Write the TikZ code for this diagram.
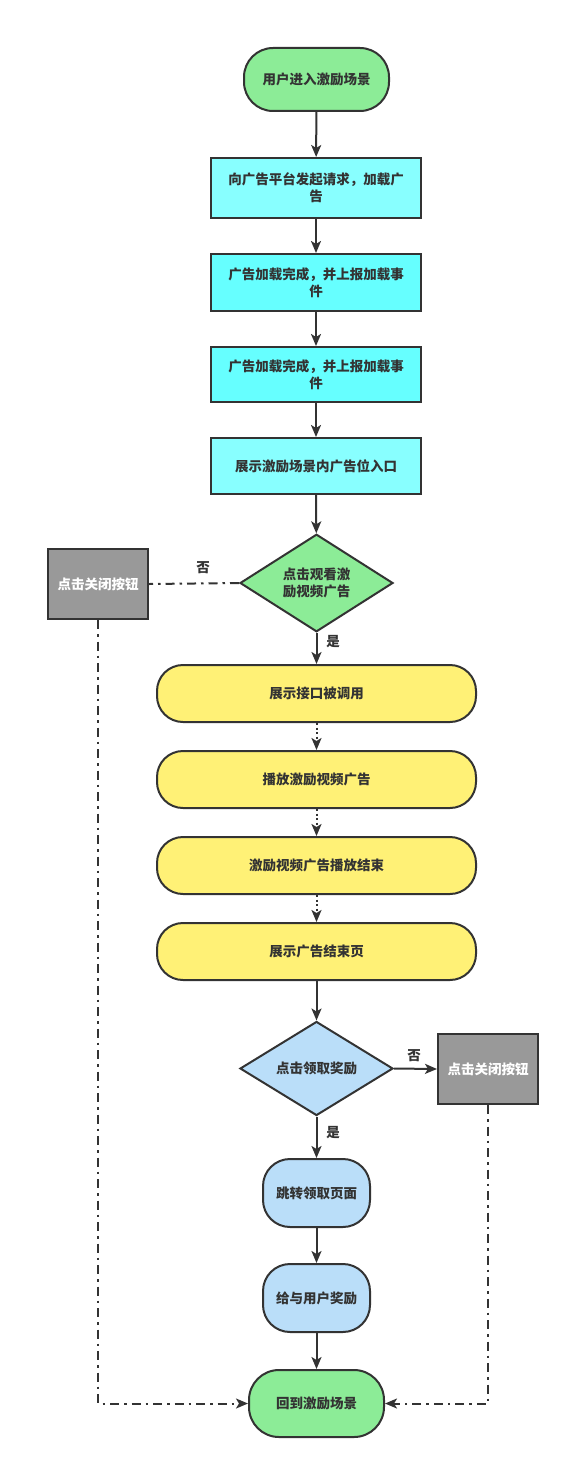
\documentclass[tikz,border=0pt]{standalone}
\usepackage{fontspec}
\newfontfamily\cjk{Noto Sans CJK SC}
\usetikzlibrary{shapes.geometric,arrows.meta}
\definecolor{ink}{HTML}{333333}
\definecolor{cgreen}{HTML}{8CEC97}
\definecolor{ccyanA}{HTML}{88FFFF}
\definecolor{ccyanB}{HTML}{66FFFF}
\definecolor{cyellow}{HTML}{FFF176}
\definecolor{cblue}{HTML}{BADEF9}
\definecolor{cgray}{HTML}{999999}
\tikzset{
  base/.style={draw=ink, line width=2pt, text=ink, align=center, inner sep=0pt,
    font=\cjk\bfseries\fontsize{13.5}{17}\selectfont},
  term/.style={base, rounded corners=29pt},
  procbox/.style={base, rectangle, minimum width=210pt},
  ybox/.style={base, fill=cyellow, rounded corners=26pt, minimum width=319pt, minimum height=57pt},
  dia/.style={base, diamond, minimum width=153pt, minimum height=90pt},
  graybox/.style={base, fill=cgray, text=white, minimum width=100pt, minimum height=70pt},
  tip/.style={-{Stealth[length=12pt,width=10pt,inset=3pt]}},
  flow/.style={draw=ink, line width=2pt, tip},
  dotflow/.style={flow, dash pattern=on 2pt off 2.5pt},
  dashdot/.style={draw=ink, line width=2pt, dash pattern=on 9pt off 5pt on 2.5pt off 5pt},
  lbl/.style={text=ink, font=\cjk\bfseries\fontsize{13.5}{15}\selectfont, inner sep=0pt}
}
\begin{document}
\begin{tikzpicture}[x=1pt,y=-1pt]
\useasboundingbox (0,0) rectangle (570,1469);
\node[term, fill=cgreen, minimum width=145pt, minimum height=63pt] (start) at (316.5,79.5) {用户进入激励场景};
\node[procbox, fill=ccyanA, minimum height=60pt] (b1) at (316,188) {向广告平台发起请求，加载广\\告};
\node[procbox, fill=ccyanB, minimum height=57pt] (b2) at (316,282.5) {广告加载完成，并上报加载事\\件};
\node[procbox, fill=ccyanB, minimum height=55pt] (b3) at (316,374.5) {广告加载完成，并上报加载事\\件};
\node[procbox, fill=ccyanA, minimum height=56pt] (b4) at (316,466) {展示激励场景内广告位入口};
\node[dia, fill=cgreen] (d1) at (316.5,583) {点击观看激\\励视频广告};
\node[graybox] (g1) at (98,584) {点击关闭按钮};
\node[ybox] (y1) at (316.5,693.5) {展示接口被调用};
\node[ybox] (y2) at (316.5,779.5) {播放激励视频广告};
\node[ybox] (y3) at (316.5,865.5) {激励视频广告播放结束};
\node[ybox] (y4) at (316.5,951.5) {展示广告结束页};
\node[dia, fill=cblue] (d2) at (316.5,1068.5) {点击领取奖励};
\node[graybox] (g2) at (488,1069) {点击关闭按钮};
\node[term, fill=cblue, minimum width=107pt, minimum height=68pt, rounded corners=27pt] (u1) at (316.5,1193) {跳转领取页面};
\node[term, fill=cblue, minimum width=107pt, minimum height=68pt, rounded corners=27pt] (u2) at (316.5,1298) {给与用户奖励};
\node[term, fill=cgreen, minimum width=135pt, minimum height=67pt, rounded corners=30pt] (end) at (316.5,1403.5) {回到激励场景};
\node[lbl] (no1) at (203,568) {否};
\node[lbl] (yes1) at (333,642) {是};
\node[lbl] (no2) at (414,1056) {否};
\node[lbl] (yes2) at (333,1133) {是};
\coordinate (lc) at (g1.south |- end.west);
\coordinate (rc) at (g2.south |- end.east);
\draw[flow] (start) -- (b1);
\draw[flow] (b1) -- (b2);
\draw[flow] (b2) -- (b3);
\draw[flow] (b3) -- (b4);
\draw[flow] (b4) -- (d1);
\draw[flow] (d1) -- (y1);
\draw[dashdot] (d1.west) -- (g1.east);
\draw[dotflow] (y1) -- (y2);
\draw[dotflow] (y2) -- (y3);
\draw[dotflow] (y3) -- (y4);
\draw[flow] (y4) -- (d2);
\draw[flow] (d2.east) -- (g2.west);
\draw[flow] (d2) -- (u1);
\draw[flow] (u1) -- (u2);
\draw[flow] (u2) -- (end);
\draw[dashdot, tip] (g1.south) -- (lc) -- (end.west);
\draw[dashdot, tip] (g2.south) -- (rc) -- (end.east);
\end{tikzpicture}
\end{document}
